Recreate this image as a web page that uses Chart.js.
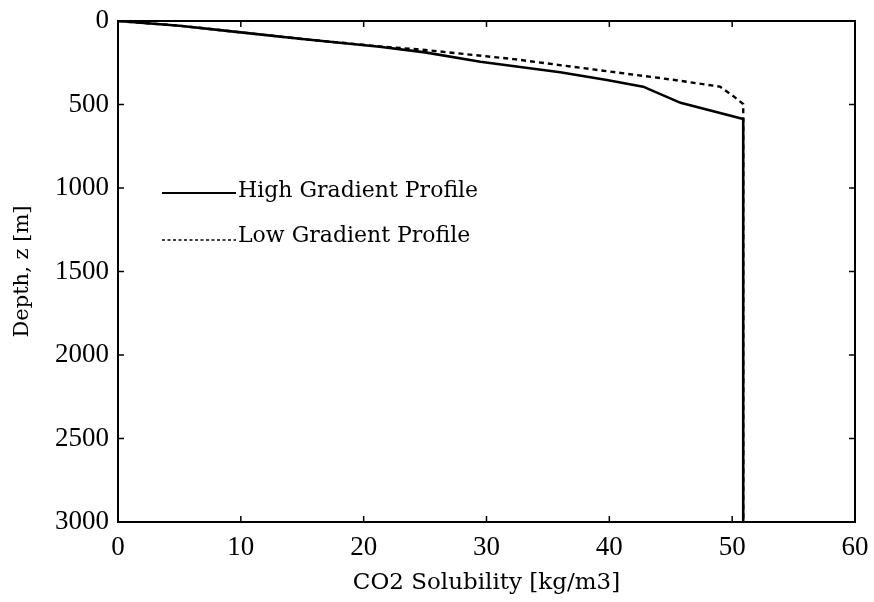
<!DOCTYPE html>
<html>
<head>
<meta charset="utf-8">
<script src="https://cdn.jsdelivr.net/npm/chart.js@4.4.1/dist/chart.umd.min.js"></script>
<style>
html,body{margin:0;padding:0;background:#fff;}
#wrap{width:874px;height:602px;position:relative;}
</style>
</head>
<body>
<div id="wrap"><canvas id="c" width="874" height="602"></canvas></div>
<script>
// Data
const seriesLabels = ['High Gradient Profile', 'Low Gradient Profile'];
const highSolubility = [0, 5, 10, 15, 21.3, 25, 29.5, 36, 39.8, 42.75, 45.8, 50.9, 50.9];
const highDepth      = [0, 28, 68, 108, 154, 188, 244, 307, 353, 393, 490, 587, 3000];
const lowSolubility  = [0, 5, 10, 15, 21.3, 24.8, 32.2, 38.7, 45.2, 49, 50.1, 50.9, 50.9];
const lowDepth       = [0, 28, 68, 108, 152, 172, 228, 290, 352, 393, 450, 497, 3000];
const xTicks = [0, 10, 20, 30, 40, 50, 60];
const yTicks = [0, 500, 1000, 1500, 2000, 2500, 3000];

const toPts = (xs, ys) => xs.map((x, i) => ({x: x, y: ys[i]}));

const SERIF = '"Liberation Serif", "Times New Roman", serif';
const TSERIF = '"DejaVu Serif", serif';

const framePlugin = {
  id: 'frame',
  afterDatasetsDraw(chart) {
    const {ctx, chartArea: a, scales} = chart;
    ctx.save();
    ctx.strokeStyle = '#000';
    ctx.lineWidth = 2;
    ctx.strokeRect(a.left, a.top, a.right - a.left, a.bottom - a.top);
    ctx.lineWidth = 1.5;
    const L = 6;
    xTicks.forEach(v => {
      const px = scales.x.getPixelForValue(v);
      ctx.beginPath();
      ctx.moveTo(px, a.bottom); ctx.lineTo(px, a.bottom - L);
      ctx.moveTo(px, a.top); ctx.lineTo(px, a.top + L);
      ctx.stroke();
    });
    yTicks.forEach(v => {
      const py = scales.y.getPixelForValue(v);
      ctx.beginPath();
      ctx.moveTo(a.left, py); ctx.lineTo(a.left + L, py);
      ctx.moveTo(a.right, py); ctx.lineTo(a.right - L, py);
      ctx.stroke();
    });
    // legend inside the plot
    const items = [
      {label: chart.data.datasets[0].label, dash: [], y: 193, base: 197},
      {label: chart.data.datasets[1].label, dash: [3, 2.5], y: 240, base: 242}
    ];
    ctx.font = '22px ' + TSERIF;
    ctx.fillStyle = '#000';
    ctx.textBaseline = 'alphabetic';
    items.forEach((it, i) => {
      ctx.beginPath();
      ctx.setLineDash(it.dash);
      ctx.lineWidth = i === 0 ? 2 : 1.5;
      ctx.moveTo(162, it.y); ctx.lineTo(236, it.y);
      ctx.stroke();
      ctx.setLineDash([]);
      ctx.fillText(it.label, 238, it.base);
    });
    ctx.restore();
  }
};

new Chart(document.getElementById('c'), {
  type: 'line',
  data: {
    datasets: [
      {label: seriesLabels[0], data: toPts(highSolubility, highDepth), borderColor: '#000', borderWidth: 2.6, pointRadius: 0, tension: 0, fill: false},
      {label: seriesLabels[1], data: toPts(lowSolubility, lowDepth), borderColor: '#000', borderWidth: 2.4, borderDash: [5, 4], pointRadius: 0, tension: 0, fill: false}
    ]
  },
  options: {
    responsive: false,
    animation: false,
    layout: {autoPadding: false, padding: {top: 21, right: 19, left: 0, bottom: 0}},
    plugins: {legend: {display: false}, tooltip: {enabled: false}},
    scales: {
      x: {
        type: 'linear', min: 0, max: 60,
        afterBuildTicks: s => { s.ticks = xTicks.map(v => ({value: v})); },
        afterFit: s => { s.height = 80; s.paddingLeft = 0; s.paddingRight = 0; },
        grid: {display: false, drawTicks: false},
        border: {display: false},
        ticks: {color: '#000', font: {family: SERIF, size: 27}, padding: 10, maxRotation: 0, callback: v => String(v)},
        title: {display: true, text: 'CO2 Solubility [kg/m3]', color: '#000', font: {family: TSERIF, size: 23}, padding: {top: 0, bottom: 5}}
      },
      y: {
        type: 'linear', min: 0, max: 3000, reverse: true,
        afterBuildTicks: s => { s.ticks = yTicks.map(v => ({value: v})); },
        afterFit: s => { s.width = 118; s.paddingTop = 0; s.paddingBottom = 0; },
        grid: {display: false, drawTicks: false},
        border: {display: false},
        ticks: {color: '#000', font: {family: SERIF, size: 27}, padding: 9, callback: v => String(v)},
        title: {display: true, text: 'Depth, z [m]', color: '#000', font: {family: TSERIF, size: 21}, padding: {top: 10, bottom: 0}}
      }
    }
  },
  plugins: [framePlugin]
});
</script>
</body>
</html>
